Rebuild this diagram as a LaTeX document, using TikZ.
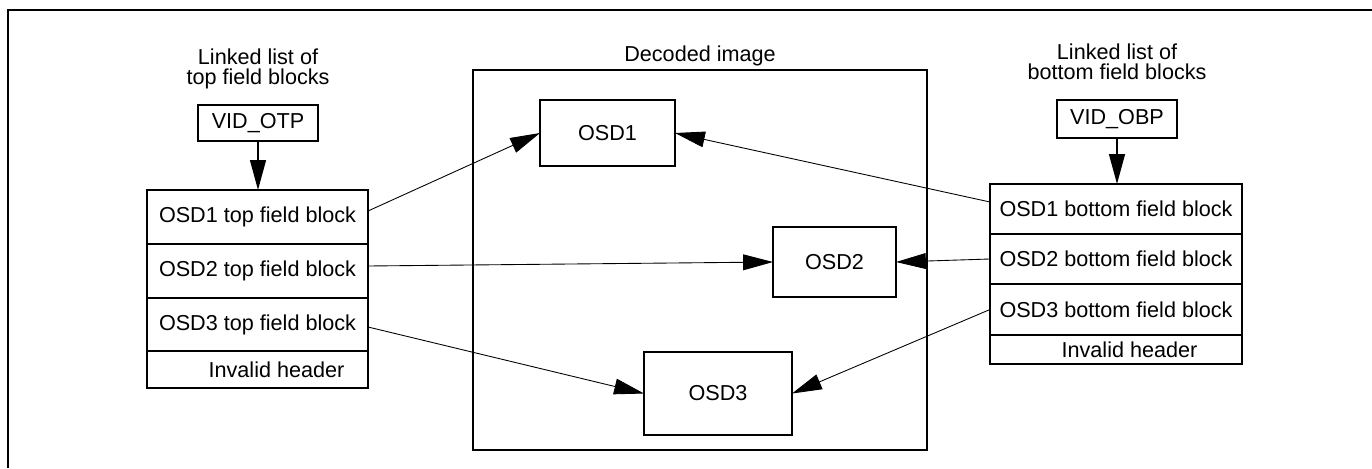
\documentclass[tikz,border=0pt]{standalone}
\usepackage{fontspec}
\setmainfont{Liberation Sans}
\usetikzlibrary{arrows.meta,positioning}

\begin{document}
\begin{tikzpicture}[x=0.02cm, y=-0.02cm, >={Triangle[length=17pt,width=9pt]},
  font=\fontsize{12.3}{11.4}\selectfont,
  box/.style={draw,line width=1pt,inner sep=0pt,outer sep=0pt},
  toprow/.style={box,minimum width=4.42cm},
  botrow/.style={box,minimum width=5.04cm},
  title/.style={anchor=north,inner sep=0pt,align=center},
  link/.style={->,line width=0.5pt}]
  \useasboundingbox (0,0) rectangle (1372,468);
  % Frame
  \draw[line width=1pt] (8,468) -- (8,10) -- (1372,10);
  % Top field list (left)
  \node[title] (toptitle) at (258,48) {Linked list of\\top field blocks};
  \node[box,minimum width=2.4cm,minimum height=0.72cm] (vidotp) at (258,123) {VID\_OTP};
  \node[toprow,minimum height=1.08cm] (tb1) at (257.5,217) {OSD1 top field block};
  \node[toprow,minimum height=1.08cm,below=0pt of tb1] (tb2) {OSD2 top field block};
  \node[toprow,minimum height=1.06cm,below=0pt of tb2] (tb3) {OSD3 top field block};
  \node[toprow,minimum height=0.74cm,below=0pt of tb3] (tinv) {\hspace*{0.76cm}Invalid header};
  % Decoded image (middle)
  \node[title] (imgtitle) at (700,45) {Decoded image};
  \node[box,minimum width=9.08cm,minimum height=7.6cm] (img) at (700,260) {};
  \node[box,minimum width=2.7cm,minimum height=1.32cm] (osd1) at (607.5,133) {OSD1};
  \node[box,minimum width=2.46cm,minimum height=1.4cm] (osd2) at (834.5,262) {OSD2};
  \node[box,minimum width=2.96cm,minimum height=1.66cm] (osd3) at (718,393.5) {OSD3};
  % Bottom field list (right)
  \node[title] (bottitle) at (1117,43) {Linked list of\\bottom field blocks};
  \node[box,minimum width=2.4cm,minimum height=0.76cm] (vidobp) at (1117,119) {VID\_OBP};
  \node[botrow,minimum height=1.0cm] (bb1) at (1116,209) {OSD1 bottom field block};
  \node[botrow,minimum height=1.0cm,below=0pt of bb1] (bb2) {OSD2 bottom field block};
  \node[botrow,minimum height=1.02cm,below=0pt of bb2] (bb3) {OSD3 bottom field block};
  \node[botrow,minimum height=0.58cm,below=0pt of bb3] (binv) {\hspace*{0.54cm}Invalid header};
  % Pointers
  \draw[->,line width=1pt] (vidotp.south) -- (vidotp.south |- tb1.north);
  \draw[->,line width=1pt] (vidobp.south) -- (vidobp.south |- bb1.north);
  \draw[link] ([yshift=0.12cm]tb1.east) -- (osd1.west);
  \draw[link] ([yshift=0.1cm]tb2.east) -- (osd2.west);
  \draw[link] ([yshift=-0.05cm]tb3.east) -- (osd3.west);
  \draw[link] ([yshift=0.14cm]bb1.west) -- (osd1.east);
  \draw[link] (bb2.west) -- (osd2.east);
  \draw[link] (bb3.west) -- (osd3.east);
\end{tikzpicture}
\end{document}
